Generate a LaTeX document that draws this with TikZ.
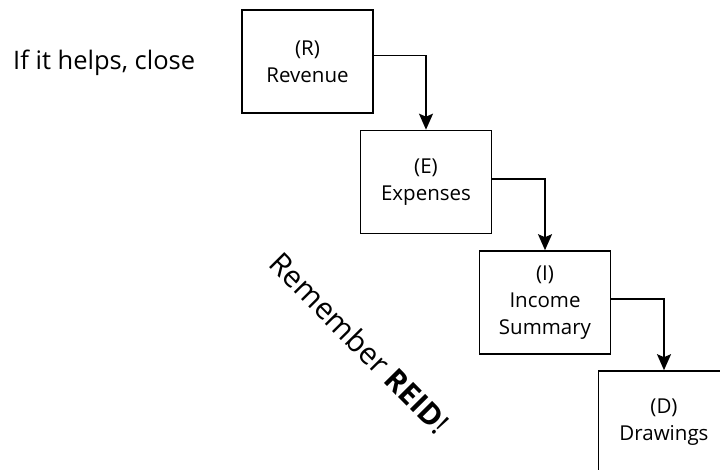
\documentclass[tikz,border=0pt]{standalone}
\usepackage{fontspec}
\setmainfont{Open Sans}
\usetikzlibrary{arrows.meta}
\begin{document}
\begin{tikzpicture}[x=1pt,y=-1pt,
  box/.style={draw=black, line width=1.6pt, minimum width=131pt, minimum height=103pt,
    inner sep=0pt, align=center, font=\fontsize{20.5}{27}\selectfont},
  conn/.style={draw=black, line width=1.6pt, -{Stealth[length=16pt,width=14pt,inset=3pt]}},
  plain/.style={inner sep=0pt}]
\useasboundingbox (0,0) rectangle (720,470);
\clip (0,0) rectangle (720,470);
\node[box] (R) at (307.5,61.5) {(R)\\Revenue};
\node[box] (E) at (426,182) {(E)\\Expenses};
\node[box] (I) at (545,302.5) {(I)\\Income\\Summary};
\node[box] (D) at (664,422.5) {(D)\\Drawings};
\draw[conn] ([yshift=6pt]R.east) -| (E.north);
\draw[conn] ([yshift=3pt]E.east) -| (I.north);
\draw[conn] ([yshift=3.5pt]I.east) -| (D.north);
\node[plain, anchor=base west, font=\fontsize{25.5}{30}\selectfont] (t1) at (13,70) {If it helps, close};
\node[plain, rotate=-45.3, anchor=base, font=\fontsize{30}{36}\selectfont] (t2) at (352,351) {Remember \textbf{REID}!};
\end{tikzpicture}
\end{document}
